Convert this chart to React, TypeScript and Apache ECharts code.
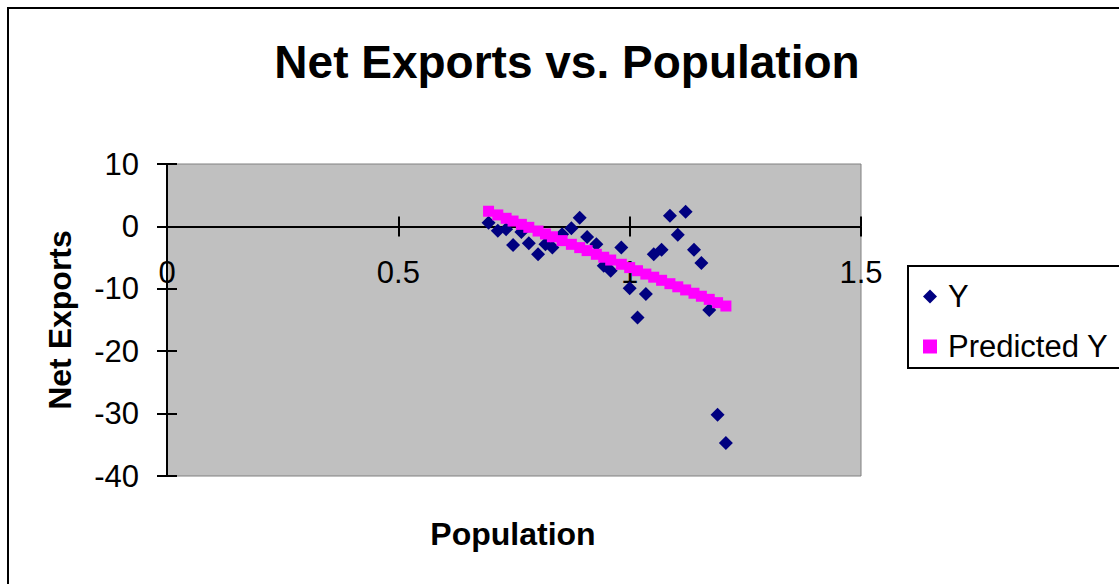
import React, { useEffect, useRef } from "react";
import * as echarts from "echarts";

// Population (x) and observed net exports (Y) for each observation
const population = [
  0.695, 0.715, 0.733, 0.748, 0.766, 0.782, 0.802, 0.818, 0.833, 0.854,
  0.874, 0.892, 0.908, 0.928, 0.944, 0.959, 0.982, 1.0, 1.017, 1.035,
  1.052, 1.069, 1.087, 1.104, 1.121, 1.139, 1.155, 1.172, 1.19, 1.208,
];
const netExports = [
  0.6, -0.7, -0.45, -3.0, -0.9, -2.7, -4.45, -2.85, -3.4, -1.25,
  -0.3, 1.4, -1.7, -2.85, -6.3, -7.1, -3.4, -9.9, -14.6, -10.85,
  -4.45, -3.75, 1.7, -1.35, 2.35, -3.75, -5.85, -13.4, -30.2, -34.7,
];
// Fitted values from the regression line
const predictedY = [
  2.43, 1.84, 1.3, 0.86, 0.33, -0.15, -0.74, -1.21, -1.66, -2.28,
  -2.87, -3.4, -3.88, -4.47, -4.94, -5.39, -6.07, -6.6, -7.1, -7.64,
  -8.14, -8.64, -9.18, -9.68, -10.18, -10.71, -11.19, -11.69, -12.22, -12.76,
];

const seriesNames = ["Y", "Predicted Y"];
const xRange = { min: 0, max: 1.5, interval: 0.5 };
const yRange = { min: -40, max: 10, interval: 10 };

const FONT = 'Arial, "Liberation Sans", Helvetica, sans-serif';

// plot area geometry
const GRID = { left: 167, top: 164, width: 694, height: 312 };
// pixel offset of the zero line above the plot bottom
const ZERO_OFFSET = (GRID.height * (0 - yRange.min)) / (yRange.max - yRange.min);

export default function App() {
  const ref = useRef<HTMLDivElement>(null);

  useEffect(() => {
    if (!ref.current) return;
    const chart = echarts.init(ref.current, undefined, { renderer: "svg" });

    const observed = population.map((x, i) => [x, netExports[i]]);
    const fitted = population.map((x, i) => [x, predictedY[i]]);

    const labelStyle = { color: "#000", fontSize: 31, fontFamily: FONT };

    chart.setOption({
      animation: false,
      backgroundColor: "#fff",
      grid: {
        ...GRID,
        show: true,
        backgroundColor: "#C0C0C0",
        borderColor: "#808080",
        borderWidth: 1,
      },
      xAxis: [
        {
          type: "value",
          ...xRange,
          position: "bottom",
          axisLine: {
            onZero: true,
            onZeroAxisIndex: 0,
            lineStyle: { color: "#000", width: 2 },
          },
          axisTick: { show: true, length: 10, lineStyle: { color: "#000", width: 2 } },
          // labels sit just under the zero line
          axisLabel: { ...labelStyle, margin: 31 - ZERO_OFFSET },
          splitLine: { show: false },
        },
        {
          // upper half of the crossing tick marks
          type: "value",
          ...xRange,
          position: "top",
          axisLine: {
            show: false,
            onZero: true,
            onZeroAxisIndex: 0,
          },
          axisTick: { show: true, length: 10, lineStyle: { color: "#000", width: 2 } },
          axisLabel: { show: false },
          splitLine: { show: false },
        },
      ],
      yAxis: [
        {
          type: "value",
          ...yRange,
          position: "left",
          axisLine: {
            onZero: true,
            onZeroAxisIndex: 0,
            lineStyle: { color: "#000", width: 2 },
          },
          axisTick: { show: true, length: 10, lineStyle: { color: "#000", width: 2 } },
          axisLabel: { ...labelStyle, margin: 28 },
          splitLine: { show: false },
        },
        {
          // inner half of the crossing tick marks
          type: "value",
          ...yRange,
          position: "left",
          axisLine: { show: false, onZero: true, onZeroAxisIndex: 0 },
          axisTick: {
            show: true,
            inside: true,
            length: 10,
            lineStyle: { color: "#000", width: 2 },
          },
          axisLabel: { show: false },
          splitLine: { show: false },
        },
      ],
      legend: {
        orient: "vertical",
        left: 923,
        top: 281,
        padding: 0,
        itemGap: 19,
        itemWidth: 14,
        itemHeight: 14,
        textStyle: {
          color: "#000",
          fontSize: 31,
          fontFamily: FONT,
          padding: [0, 0, 0, 6],
        },
        data: [
          { name: seriesNames[0], icon: "diamond", itemStyle: { opacity: 1 } },
          { name: seriesNames[1], icon: "rect", itemStyle: { opacity: 1 } },
        ],
      },
      series: [
        {
          name: seriesNames[0],
          type: "scatter",
          data: observed,
          symbol: "diamond",
          symbolSize: 14,
          itemStyle: { color: "#000080", opacity: 1 },
          xAxisIndex: 0,
          yAxisIndex: 0,
        },
        {
          name: seriesNames[1],
          type: "scatter",
          data: fitted,
          symbol: "rect",
          symbolSize: 11,
          itemStyle: { color: "#FF00FF", opacity: 1 },
          xAxisIndex: 0,
          yAxisIndex: 0,
        },
      ],
      graphic: [
        {
          type: "rect",
          shape: { x: 8, y: 8, width: 1300, height: 800 },
          style: { fill: "none", stroke: "#000", lineWidth: 2 },
          z: 0,
          silent: true,
        },
        {
          type: "rect",
          shape: { x: 908, y: 266, width: 400, height: 102 },
          style: { fill: "#fff", stroke: "#000", lineWidth: 2 },
          z: -1,
          silent: true,
        },
        {
          type: "text",
          x: 567,
          y: 62,
          style: {
            text: "Net Exports vs. Population",
            fill: "#000",
            font: `bold 46px ${FONT}`,
            textAlign: "center",
            textVerticalAlign: "middle",
          },
        },
        {
          type: "text",
          x: 513,
          y: 534,
          style: {
            text: "Population",
            fill: "#000",
            font: `bold 32px ${FONT}`,
            textAlign: "center",
            textVerticalAlign: "middle",
          },
        },
        {
          type: "text",
          x: 60,
          y: 320,
          rotation: Math.PI / 2,
          style: {
            text: "Net Exports",
            fill: "#000",
            font: `bold 32px ${FONT}`,
            textAlign: "center",
            textVerticalAlign: "middle",
          },
        },
      ],
    });

    return () => chart.dispose();
  }, []);

  return (
    <div
      ref={ref}
      style={{ position: "absolute", left: 0, top: 0, width: 1119, height: 584 }}
    />
  );
}
